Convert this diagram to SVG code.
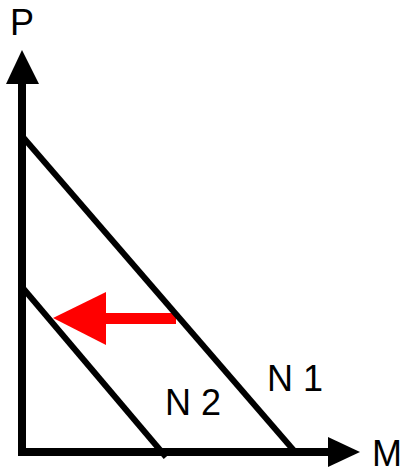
<svg xmlns="http://www.w3.org/2000/svg" width="404" height="468" viewBox="0 0 404 468">
<style>
.ax{stroke:#000;stroke-width:8;fill:none}
.ln{stroke:#000;stroke-width:6;fill:none}
.lbl{font-family:"Liberation Sans",Arial,sans-serif;font-size:36px;fill:#000}
</style>
<rect width="404" height="468" fill="#fff"/>
<g id="connectors">
<line class="ax" x1="22" y1="456" x2="22" y2="80"/>
<polygon points="22,50 6,84 39,84" fill="#000"/>
<line class="ax" x1="18" y1="452" x2="330" y2="452"/>
<polygon points="360,452 328,437 328,467" fill="#000"/>
<rect x="104" y="313" width="72" height="11" fill="#f00"/>
<polygon points="53,318 106,292 106,345" fill="#f00"/>
</g>
<g id="N1">
<line class="ln" x1="22" y1="136" x2="296" y2="453"/>
<text class="lbl" x="267" y="391">N 1</text>
</g>
<g id="N2">
<line class="ln" x1="22" y1="287" x2="166" y2="457"/>
<text class="lbl" x="165" y="415">N 2</text>
</g>
<g id="P"><text class="lbl" x="10" y="35">P</text></g>
<g id="M"><text class="lbl" x="372" y="466">M</text></g>
</svg>
